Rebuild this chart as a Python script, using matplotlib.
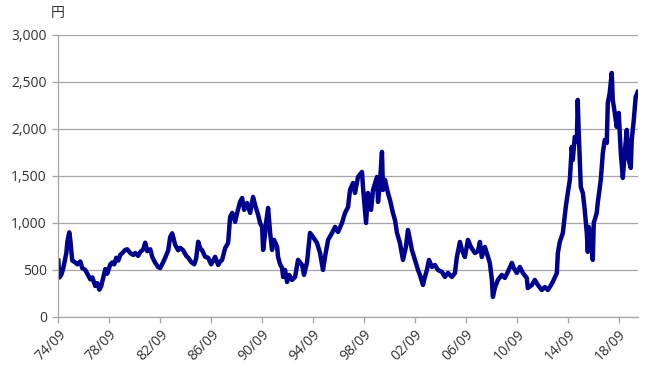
import matplotlib.pyplot as plt

# price (yen), decimal years
years = [1974.75, 1974.83, 1974.99, 1975.14, 1975.38, 1975.46, 1975.61, 1975.69, 1975.77, 1975.85,
         1976.08, 1976.24, 1976.48, 1976.63, 1976.87, 1977.10, 1977.26, 1977.42, 1977.65, 1977.81,
         1977.97, 1978.12, 1978.28, 1978.44, 1978.59, 1978.83, 1978.99, 1979.14, 1979.30, 1979.46,
         1979.61, 1979.77, 1980.00, 1980.16, 1980.40, 1980.63, 1980.79, 1981.02, 1981.18, 1981.42,
         1981.57, 1981.73, 1981.97, 1982.12, 1982.36, 1982.59, 1982.75, 1982.99, 1983.14, 1983.38,
         1983.53, 1983.69, 1983.93, 1984.16, 1984.32, 1984.55, 1984.79, 1984.95, 1985.18, 1985.42,
         1985.57, 1985.73, 1985.89, 1986.04, 1986.28, 1986.51, 1986.75, 1986.91, 1987.06, 1987.30,
         1987.46, 1987.61, 1987.85, 1988.08, 1988.24, 1988.40, 1988.63, 1988.79, 1989.02, 1989.18,
         1989.34, 1989.57, 1989.81, 1990.04, 1990.20, 1990.44, 1990.59, 1990.75, 1990.83, 1990.99,
         1991.06, 1991.22, 1991.38, 1991.53, 1991.69, 1991.93, 1992.00, 1992.16, 1992.32, 1992.40,
         1992.55, 1992.71, 1992.87, 1993.10, 1993.34, 1993.57, 1993.89, 1994.04, 1994.28, 1994.51,
         1994.75, 1995.06, 1995.30, 1995.53, 1995.69, 1995.93, 1996.24, 1996.48, 1996.71, 1997.02,
         1997.26, 1997.50, 1997.65, 1997.89, 1998.04, 1998.28, 1998.59, 1998.67, 1998.91, 1999.06,
         1999.30, 1999.46, 1999.77, 1999.85, 2000.00, 2000.16, 2000.24, 2000.40, 2000.63, 2000.79,
         2001.02, 2001.18, 2001.34, 2001.57, 2001.81, 2002.04, 2002.20, 2002.36, 2002.51, 2002.75,
         2002.99, 2003.14, 2003.38, 2003.53, 2003.69, 2003.85, 2004.08, 2004.32, 2004.55, 2004.87,
         2005.10, 2005.34, 2005.65, 2005.89, 2006.04, 2006.28, 2006.44, 2006.67, 2006.91, 2007.14,
         2007.46, 2007.69, 2007.85, 2008.00, 2008.24, 2008.48, 2008.63, 2008.79, 2008.87, 2009.02,
         2009.26, 2009.57, 2009.81, 2010.04, 2010.36, 2010.51, 2010.75, 2010.99, 2011.22, 2011.53,
         2011.61, 2011.93, 2012.16, 2012.40, 2012.71, 2012.95, 2013.18, 2013.34, 2013.57, 2013.89,
         2013.97, 2014.12, 2014.36, 2014.59, 2014.75, 2014.91, 2015.06, 2015.14, 2015.30, 2015.46,
         2015.53, 2015.61, 2015.77, 2015.93, 2016.08, 2016.24, 2016.32, 2016.40, 2016.63, 2016.71,
         2016.79, 2017.02, 2017.10, 2017.34, 2017.50, 2017.65, 2017.81, 2017.89, 2018.04, 2018.20,
         2018.28, 2018.44, 2018.59, 2018.75, 2018.91, 2019.07, 2019.22, 2019.38, 2019.54, 2019.69,
         2019.77, 2019.93, 2020.08, 2020.24]
prices = [600, 420, 450, 520, 680, 800, 900, 820, 700, 600,
          580, 560, 590, 520, 500, 440, 400, 420, 330, 360,
          290, 330, 420, 510, 460, 560, 580, 560, 630, 600,
          660, 680, 713, 720, 680, 660, 680, 650, 690, 720,
          790, 700, 720, 640, 575, 530, 520, 585, 630, 710,
          850, 890, 765, 710, 735, 710, 650, 630, 585, 560,
          620, 800, 730, 710, 640, 630, 560, 600, 640, 553,
          590, 607, 734, 787, 1064, 1107, 1011, 1107, 1224, 1266,
          1139, 1213, 1107, 1277, 1192, 1085, 1000, 958, 713, 894,
          1000, 1160, 894, 713, 820, 745, 640, 560, 521, 426,
          500, 372, 447, 394, 426, 607, 553, 447, 585, 894,
          851, 787, 680, 500, 640, 820, 894, 958, 904, 1000,
          1107, 1170, 1351, 1426, 1319, 1490, 1543, 1383, 1000, 1319,
          1139, 1351, 1490, 1224, 1426, 1756, 1351, 1458, 1319, 1245,
          1107, 1032, 894, 787, 607, 745, 926, 820, 713, 607,
          500, 447, 340, 426, 500, 607, 532, 553, 500, 479,
          426, 468, 426, 468, 638, 798, 713, 638, 820, 745,
          680, 700, 798, 638, 745, 638, 575, 394, 213, 308,
          394, 447, 415, 479, 575, 521, 468, 532, 468, 415,
          308, 340, 394, 340, 287, 319, 287, 319, 372, 468,
          680, 798, 894, 1170, 1319, 1458, 1809, 1670, 1915, 1862,
          2309, 1958, 1383, 1319, 1139, 894, 692, 958, 787, 607,
          1000, 1107, 1213, 1458, 1745, 1883, 1851, 2277, 2383, 2596,
          2309, 2170, 2022, 2170, 1745, 1479, 1745, 1990, 1670, 1585,
          1883, 2096, 2341, 2394]

tick_years = [1974.75 + 4 * i for i in range(12)]
tick_labels = ["74/09", "78/09", "82/09", "86/09", "90/09", "94/09",
               "98/09", "02/09", "06/09", "10/09", "14/09", "18/09"]
y_ticks = [0, 500, 1000, 1500, 2000, 2500, 3000]

plt.rcParams['font.family'] = ['Open Sans', 'Noto Sans CJK JP', 'DejaVu Sans']

fig = plt.figure(figsize=(6.51, 3.76), dpi=100)
ax = fig.add_axes([0.089, 0.157, 0.891, 0.75])

grid_col = "#a6a6a6"
ax.plot(years, prices, color="#00008f", linewidth=3.2, solid_joinstyle="round")

ax.set_xlim(1974.72, 2020.26)
ax.set_ylim(0, 3000)
ax.set_yticks(y_ticks)
ax.set_yticklabels([f"{v:,}" for v in y_ticks])
ax.set_xticks(tick_years)
ax.set_xticklabels(tick_labels, rotation=45, ha="right", rotation_mode="anchor")

ax.grid(axis="y", color=grid_col, linewidth=0.9)
ax.set_axisbelow(True)
for s in ["top", "right"]:
    ax.spines[s].set_visible(False)
for s in ["left", "bottom"]:
    ax.spines[s].set_color(grid_col)
    ax.spines[s].set_linewidth(0.9)
ax.tick_params(axis="both", colors=grid_col, length=4, width=0.9, labelsize=10,
               labelcolor="#333333")
ax.tick_params(axis="y", pad=4)
ax.tick_params(axis="x", pad=3)

fig.text(58 / 651, 1 - 13 / 376, "円", fontsize=10, color="#333333",
         ha="center", va="center")

fig.savefig("out.png", dpi=100)
